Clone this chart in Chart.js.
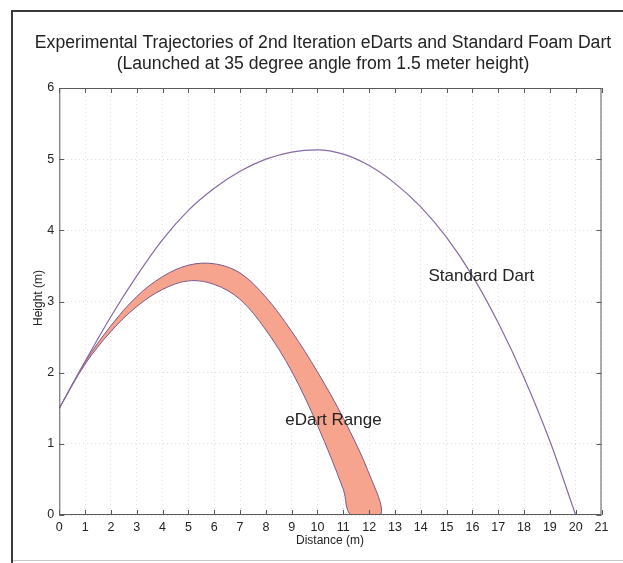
<!DOCTYPE html>
<html>
<head>
<meta charset="utf-8">
<script src="https://cdn.jsdelivr.net/npm/chart.js@4.4.0/dist/chart.umd.min.js"></script>
<style>
  html, body { margin: 0; padding: 0; background: #fff; }
  #wrap { width: 623px; height: 563px; position: relative; }
</style>
</head>
<body>
<div id="wrap"><canvas id="trajChart" width="623" height="563"></canvas></div>
<script>
// distances (m) and heights (m)
var standardDistance = [0, 1, 2, 3, 4, 5, 6, 7, 8, 9, 10, 11, 12, 13, 14, 15, 16, 17, 18, 19, 20];
var standardHeight = [1.50, 2.16, 2.79, 3.36, 3.87, 4.28, 4.59, 4.83, 5.00, 5.10, 5.13, 5.07, 4.91, 4.66, 4.33, 3.90, 3.36, 2.70, 1.93, 1.04, 0.00];

var edartUpperDistance = [0, 1, 2, 3, 4, 5, 6, 7, 8, 9, 10, 11, 12, 12.45];
var edartUpperHeight = [1.50, 2.15, 2.66, 3.07, 3.35, 3.51, 3.53, 3.40, 3.06, 2.58, 2.01, 1.36, 0.58, 0.00];

var edartLowerDistance = [0, 1, 2, 3, 4, 5, 6, 7, 8, 9, 10, 11, 11.3];
var edartLowerHeight = [1.50, 2.12, 2.58, 2.93, 3.17, 3.29, 3.24, 3.03, 2.60, 2.02, 1.26, 0.36, 0.00];

var xTicks = [0, 1, 2, 3, 4, 5, 6, 7, 8, 9, 10, 11, 12, 13, 14, 15, 16, 17, 18, 19, 20, 21];
var yTicks = [0, 1, 2, 3, 4, 5, 6];

var titleLines = [
  'Experimental Trajectories of 2nd Iteration eDarts and Standard Foam Dart',
  '(Launched at 35 degree angle from 1.5 meter height)'
];

function toPoints(xs, ys) {
  var pts = [];
  for (var i = 0; i < xs.length; i++) pts.push({ x: xs[i], y: ys[i] });
  return pts;
}

// band outline: upper edge out, lower edge back
var bandPoints = toPoints(edartUpperDistance, edartUpperHeight)
  .concat(toPoints(edartLowerDistance, edartLowerHeight).reverse());

var fontFamily = 'Arial, "Liberation Sans", sans-serif';
var textColor = '#232323';
var gridColor = 'rgba(200, 175, 200, 0.45)';

// frame, titles, inward ticks, box, annotations
var decorPlugin = {
  id: 'decor',
  afterDraw: function (chart) {
    var ctx = chart.ctx;
    var area = chart.chartArea;
    var xs = chart.scales.x;
    var ys = chart.scales.y;
    ctx.save();

    // outer frame
    ctx.strokeStyle = '#3a3a3a';
    ctx.lineWidth = 2;
    ctx.beginPath();
    ctx.moveTo(12, 563);
    ctx.lineTo(12, 11);
    ctx.lineTo(623, 11);
    ctx.stroke();
    ctx.strokeStyle = '#c8c8c8';
    ctx.lineWidth = 1;
    ctx.beginPath();
    ctx.moveTo(13, 560.5);
    ctx.lineTo(623, 560.5);
    ctx.stroke();

    // box round plot
    ctx.strokeStyle = '#5a5a5a';
    ctx.lineWidth = 1;
    ctx.strokeRect(area.left + 0.5, area.top + 0.5, area.right - area.left - 1, area.bottom - area.top - 1);

    // inward ticks on all sides
    ctx.beginPath();
    xTicks.forEach(function (v) {
      var px = Math.round(xs.getPixelForValue(v)) + 0.5;
      ctx.moveTo(px, area.bottom);
      ctx.lineTo(px, area.bottom - 5);
      ctx.moveTo(px, area.top);
      ctx.lineTo(px, area.top + 5);
    });
    yTicks.forEach(function (v) {
      var py = Math.round(ys.getPixelForValue(v)) + 0.5;
      ctx.moveTo(area.left, py);
      ctx.lineTo(area.left + 5, py);
      ctx.moveTo(area.right, py);
      ctx.lineTo(area.right - 5, py);
    });
    ctx.stroke();

    ctx.fillStyle = textColor;
    ctx.textAlign = 'center';
    ctx.textBaseline = 'middle';

    // title
    ctx.font = '17.6px ' + fontFamily;
    ctx.fillText(titleLines[0], 323, 43);
    ctx.fillText(titleLines[1], 323, 64);

    // axis titles
    ctx.font = '12px ' + fontFamily;
    ctx.fillText('Distance (m)', 330, 541);
    ctx.save();
    ctx.translate(39, 298);
    ctx.rotate(-Math.PI / 2);
    ctx.fillText('Height (m)', 0, 0);
    ctx.restore();

    // annotations
    ctx.font = '17px ' + fontFamily;
    ctx.textAlign = 'left';
    ctx.fillText('Standard Dart', xs.getPixelForValue(14.3), ys.getPixelForValue(3.35));
    ctx.fillText('eDart Range', xs.getPixelForValue(8.75), ys.getPixelForValue(1.33));

    ctx.restore();
  }
};

new Chart(document.getElementById('trajChart'), {
  type: 'line',
  data: {
    datasets: [
      {
        label: 'Standard Dart',
        data: toPoints(standardDistance, standardHeight),
        borderColor: '#866aa6',
        borderWidth: 1.2,
        pointRadius: 0,
        cubicInterpolationMode: 'monotone',
        fill: false,
        order: 0
      },
      {
        label: 'eDart Range',
        data: bandPoints,
        borderColor: '#7d5a88',
        borderWidth: 1,
        backgroundColor: '#f6a48d',
        pointRadius: 0,
        tension: 0.35,
        fill: 'shape',
        order: 1
      }
    ]
  },
  options: {
    responsive: false,
    animation: false,
    layout: { padding: { top: 88, left: 0, right: 21.5, bottom: 0 } },
    plugins: {
      legend: { display: false },
      title: { display: false },
      tooltip: { enabled: false }
    },
    scales: {
      x: {
        type: 'linear',
        min: 0,
        max: 21,
        afterFit: function (scale) { scale.height = 48; },
        afterBuildTicks: function (scale) {
          scale.ticks = xTicks.map(function (v) { return { value: v }; });
        },
        border: { display: false, dash: [1, 3] },
        grid: { drawTicks: false, color: gridColor, lineWidth: 1 },
        ticks: {
          padding: 5,
          color: textColor,
          font: { family: fontFamily, size: 12.5 },
          maxRotation: 0,
          autoSkip: false
        }
      },
      y: {
        type: 'linear',
        min: 0,
        max: 6,
        afterFit: function (scale) { scale.width = 59.3; },
        afterBuildTicks: function (scale) {
          scale.ticks = yTicks.map(function (v) { return { value: v }; });
        },
        border: { display: false, dash: [1, 3] },
        grid: { drawTicks: false, color: gridColor, lineWidth: 1 },
        ticks: {
          padding: 5,
          color: textColor,
          font: { family: fontFamily, size: 12.5 }
        }
      }
    }
  },
  plugins: [decorPlugin]
});
</script>
</body>
</html>
